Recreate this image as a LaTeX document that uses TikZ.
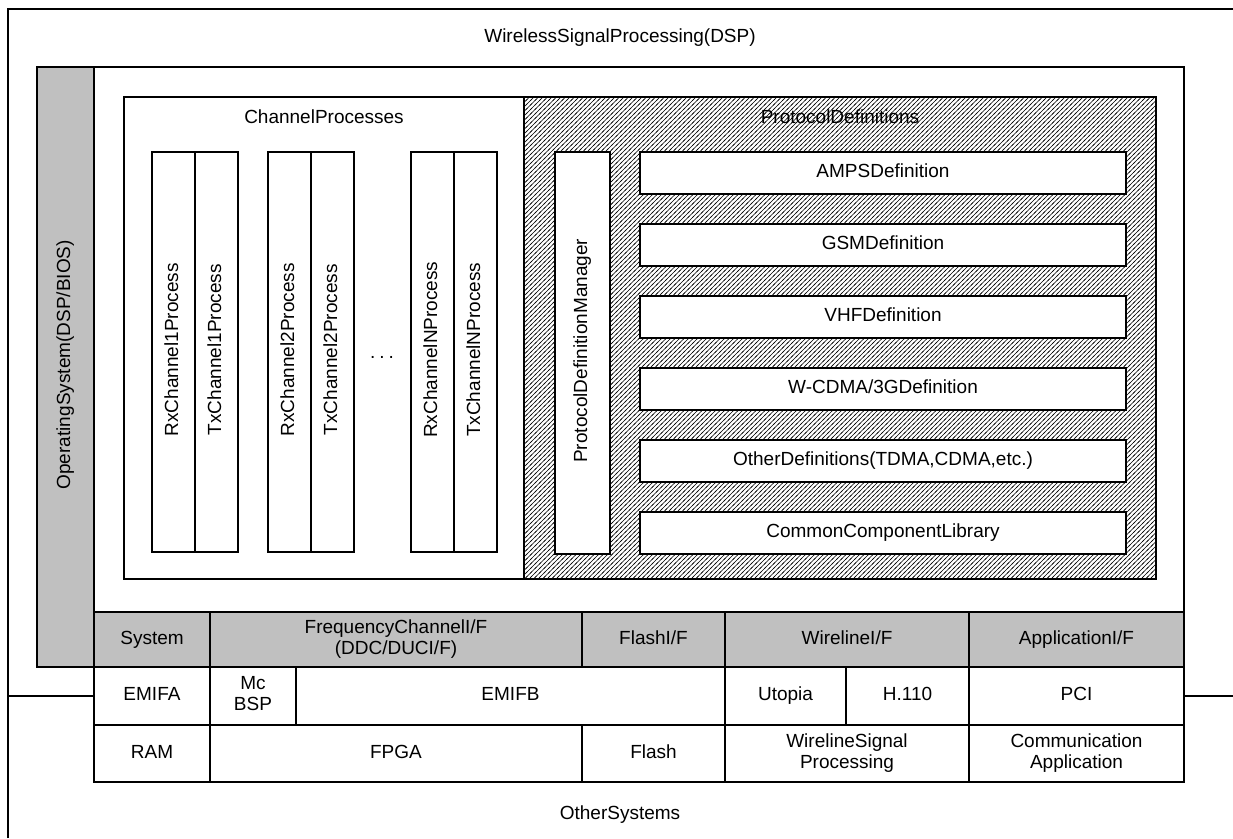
\documentclass[tikz,border=0pt]{standalone}
\usepackage{fontspec}
\setmainfont{Liberation Sans}
\usetikzlibrary{patterns.meta}
\definecolor{osgray}{RGB}{192,192,192}
\newcommand\mystrut{\rule[-4.5pt]{0pt}{18pt}}
\tikzdeclarepattern{
  name=hatchlines,
  type=uncolored,
  bounding box={(-1pt,-1pt) and (5.5pt,5.5pt)},
  tile size={(4.5pt,4.5pt)},
  code={\draw[line width=0.5pt] (-1pt,-1pt) -- (5.5pt,5.5pt);}
}
\tikzset{
  txt/.style={font=\fontsize{19}{21}\selectfont, inner sep=0pt, align=center},
  cell/.style n args={2}{draw, line width=1.6pt, minimum width=#1, minimum height=#2,
                         inner sep=0pt, align=center, font=\fontsize{19}{21}\selectfont,
                         execute at begin node=\mystrut},
  whitecell/.style n args={2}{cell={#1}{#2}, fill=white},
  graycell/.style n args={2}{cell={#1}{#2}, fill=osgray},
  hatchcell/.style n args={2}{cell={#1}{#2}, fill=white,
                         postaction={pattern={hatchlines}, pattern color=black}},
  frameline/.style={line width=1.6pt},
}
\begin{document}
\begin{tikzpicture}[x=1pt,y=-1pt]
\useasboundingbox (0,0) rectangle (1233,838);
% outer frame
\coordinate (fbl) at (8,838);
\coordinate (ftl) at (8,9);
\coordinate (ftr) at (1233,9);
\draw[frameline] (fbl) -- (ftl) -- (ftr);
\node[txt] (title) at (620,38) {\mystrut WirelessSignalProcessing(DSP)};
\node[txt] (other) at (620,815) {\mystrut OtherSystems};

% operating system and DSP area
\node[graycell={57}{600}] (os) at (65.5,367) {\rotatebox{90}{\mystrut OperatingSystem(DSP/BIOS)}};
\node[whitecell={1090}{545}] (dsp) at (639,339.5) {};

% channel processes
\node[whitecell={400}{482}] (chan) at (324,338) {};
\node[txt] (chantitle) at (324,119) {\mystrut ChannelProcesses};
\node[cell={43}{400}] (rx1) at (173.5,352) {\rotatebox{90}{\mystrut RxChannel1Process}};
\node[cell={43}{400}] (tx1) at (216.5,352) {\rotatebox{90}{\mystrut TxChannel1Process}};
\node[cell={43}{400}] (rx2) at (289.5,352) {\rotatebox{90}{\mystrut RxChannel2Process}};
\node[cell={43}{400}] (tx2) at (332.5,352) {\rotatebox{90}{\mystrut TxChannel2Process}};
\node[txt] (dots) at (382,357) {.\hspace{4pt}.\hspace{4pt}.};
\node[cell={43}{400}] (rxn) at (432.5,352) {\rotatebox{90}{\mystrut RxChannelNProcess}};
\node[cell={43}{400}] (txn) at (475.5,352) {\rotatebox{90}{\mystrut TxChannelNProcess}};

% protocol definitions
\node[hatchcell={632}{482}] (proto) at (840,338) {};
\node[txt] (prototitle) at (840,119) {\mystrut ProtocolDefinitions};
\node[whitecell={55}{402}] (pdm) at (582.5,353) {\rotatebox{90}{\mystrut ProtocolDefinitionManager}};
\node[whitecell={486}{42}] (amps) at (883,173) {AMPSDefinition};
\node[whitecell={486}{42}] (gsm) at (883,245) {GSMDefinition};
\node[whitecell={486}{42}] (vhf) at (883,317) {VHFDefinition};
\node[whitecell={486}{42}] (wcdma) at (883,389) {W-CDMA/3GDefinition};
\node[whitecell={486}{42}] (otherdef) at (883,461) {OtherDefinitions(TDMA,CDMA,etc.)};
\node[whitecell={486}{42}] (common) at (883,533) {CommonComponentLibrary};

% interface row
\node[graycell={116}{55}] (system) at (152,639.5) {System};
\node[graycell={372}{55}] (freqif) at (396,639.5) {FrequencyChannelI/F\\\mystrut(DDC/DUCI/F)};
\node[graycell={143}{55}] (flashif) at (653.5,639.5) {FlashI/F};
\node[graycell={244}{55}] (wireif) at (847,639.5) {WirelineI/F};
\node[graycell={215}{55}] (appif) at (1076.5,639.5) {ApplicationI/F};

% bus row
\node[whitecell={116}{58}] (emifa) at (152,696) {EMIFA};
\node[whitecell={86}{58}] (mcbsp) at (253,696) {Mc\\\mystrut BSP};
\node[whitecell={429}{58}] (emifb) at (510.5,696) {EMIFB};
\node[whitecell={121}{58}] (utopia) at (785.5,696) {Utopia};
\node[whitecell={123}{58}] (h110) at (907.5,696) {H.110};
\node[whitecell={215}{58}] (pci) at (1076.5,696) {PCI};

% device row
\node[whitecell={116}{57}] (ram) at (152,753.5) {RAM};
\node[whitecell={372}{57}] (fpga) at (396,753.5) {FPGA};
\node[whitecell={143}{57}] (flash) at (653.5,753.5) {Flash};
\node[whitecell={244}{57}] (wsp) at (847,753.5) {WirelineSignal\\\mystrut Processing};
\node[whitecell={215}{57}] (comm) at (1076.5,753.5) {Communication\\\mystrut Application};

% divider between DSP and other systems
\coordinate (dl) at (8,696);
\coordinate (dr) at (1233,696);
\draw[frameline] (dl) -- (emifa.west);
\draw[frameline] (pci.east) -- (dr);
\end{tikzpicture}
\end{document}
